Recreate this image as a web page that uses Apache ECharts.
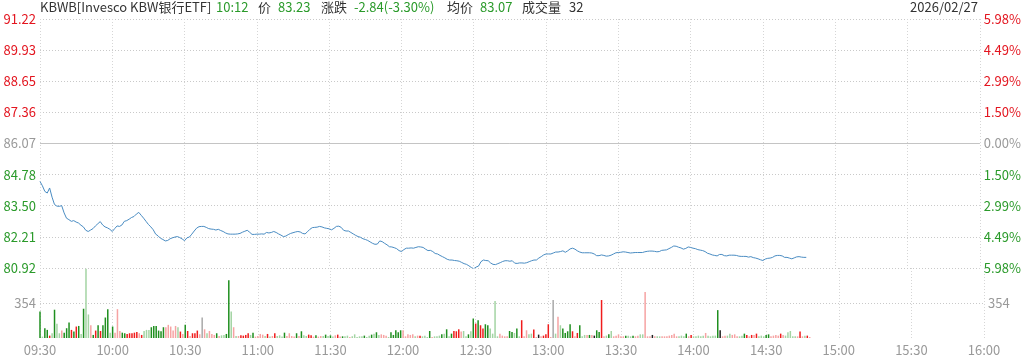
<!DOCTYPE html>
<html>
<head>
<meta charset="utf-8">
<script src="https://cdn.jsdelivr.net/npm/echarts@6/dist/echarts.min.js"></script>
<style>
html,body{margin:0;padding:0;background:#fff;}
#chart{width:1024px;height:362px;}
</style>
</head>
<body>
<div id="chart"></div>
<script>
// ---- data ----
const timeTicks = ['09:30','10:00','10:30','11:00','11:30','12:00','12:30','13:00','13:30','14:00','14:30','15:00','15:30','16:00'];
const priceTicks = [80.92, 82.21, 83.50, 84.78, 86.07, 87.36, 88.65, 89.93, 91.22];
const pctTicks = [-5.98, -4.49, -2.99, -1.50, 0.00, 1.50, 2.99, 4.49, 5.98];
const volTicks = [354];
const preClose = 86.07;

const priceVals = [
 84.50,84.32,84.09,84.02,84.23,83.85,83.55,83.48,83.47,83.50,
 83.20,82.98,82.92,82.85,82.88,82.82,82.78,82.69,82.62,82.48,
 82.43,82.49,82.55,82.66,82.75,82.84,82.70,82.62,82.58,82.52,
 82.43,82.55,82.66,82.64,82.70,82.85,82.88,82.94,83.01,83.05,
 83.15,83.22,83.10,82.98,82.85,82.72,82.62,82.50,82.32,82.25,
 82.15,82.10,82.04,82.06,82.13,82.17,82.20,82.22,82.18,82.12,
 82.05,82.17,82.20,82.32,82.45,82.57,82.63,82.64,82.64,82.60,
 82.55,82.53,82.52,82.49,82.52,82.47,82.43,82.37,82.33,82.32,
 82.32,82.32,82.33,82.35,82.40,82.44,82.48,82.40,82.31,82.31,
 82.32,82.32,82.33,82.32,82.39,82.37,82.39,82.43,82.39,82.33,
 82.28,82.22,82.24,82.30,82.35,82.38,82.41,82.43,82.41,82.35,
 82.33,82.42,82.52,82.59,82.60,82.61,82.64,82.62,82.58,82.56,
 82.54,82.50,82.56,82.64,82.65,82.60,82.48,82.45,82.45,82.39,
 82.33,82.27,82.22,82.19,82.13,82.10,82.06,82.00,81.94,81.90,
 81.91,82.04,82.01,81.94,81.88,81.80,81.79,81.76,81.72,81.64,
 81.60,81.68,81.74,81.74,81.75,81.74,81.77,81.80,81.79,81.77,
 81.70,81.64,81.65,81.60,81.52,81.50,81.44,81.39,81.34,81.28,
 81.25,81.25,81.23,81.22,81.20,81.15,81.10,81.07,81.01,80.94,
 80.89,80.96,81.00,81.18,81.25,81.23,81.22,81.13,81.07,81.06,
 81.10,81.14,81.19,81.22,81.22,81.20,81.22,81.12,81.11,81.13,
 81.13,81.12,81.14,81.18,81.22,81.25,81.25,81.33,81.39,81.46,
 81.50,81.50,81.50,81.54,81.58,81.58,81.60,81.63,81.57,81.63,
 81.71,81.74,81.70,81.63,81.58,81.55,81.55,81.55,81.55,81.54,
 81.50,81.43,81.43,81.46,81.44,81.41,81.42,81.45,81.50,81.55,
 81.56,81.57,81.59,81.58,81.56,81.54,81.55,81.56,81.56,81.56,
 81.56,81.59,81.61,81.62,81.62,81.61,81.59,81.60,81.65,81.66,
 81.67,81.72,81.77,81.83,81.82,81.78,81.75,81.70,81.73,81.79,
 81.77,81.74,81.72,81.68,81.66,81.64,81.60,81.53,81.50,81.46,
 81.44,81.42,81.48,81.48,81.43,81.42,81.45,81.45,81.45,81.44,
 81.41,81.40,81.40,81.40,81.37,81.39,81.35,81.33,81.30,81.26,
 81.23,81.29,81.32,81.33,81.36,81.42,81.44,81.44,81.42,81.36,
 81.36,81.33,81.30,81.34,81.38,81.39,81.37,81.36,81.36
];

const volumes = [
 269,14,99,82,24,48,286,143,48,75,
 54,99,156,82,65,116,122,41,296,700,
 238,129,31,75,129,71,129,207,292,54,
 116,54,292,71,54,48,41,48,48,54,
 61,48,31,71,82,82,109,122,122,75,
 68,109,109,133,116,75,122,109,65,41,
 133,71,20,48,48,75,37,207,88,48,
 71,41,31,48,20,27,31,41,585,269,
 109,20,20,27,24,31,48,31,54,14,
 20,41,34,20,41,14,20,48,20,27,
 14,54,20,48,20,14,48,20,68,27,
 20,34,27,14,27,14,20,20,34,20,
 27,14,27,34,14,
 17,17,24,10,17,
 37,10,17,17,24,10,24,34,44,58,
 31,37,31,24,10,58,31,78,58,78,
 78,17,37,31,37,17,24,24,17,24,
 10,71,10,17,17,24,37,44,88,17,
 44,71,68,88,65,71,17,37,68,197,
 146,180,129,95,139,129,95,44,374,17,
 44,24,17,17,71,61,51,95,17,180,
 17,78,37,44,85,10,34,17,24,37,
 139,10,384,44,214,129,95,51,68,139,
 68,17,51,129,17,31,31,31,31,24,
 78,61,384,17,24,37,71,17,24,37,
 17,17,24,24,17,24,17,24,37,37,
 466,17,17,31,17,17,17,17,17,17,
 24,31,44,17,17,24,17,44,17,31,
 17,17,24,17,24,51,24,17,24,24,
 282,78,17,24,24,44,31,37,17,17,
 24,44,31,17,31,31,44,17,24,17,
 31,37,17,24,31,24,44,31,24,58,
 71,17,17,17,65,17,24,24,10
];

// bar type per minute: G strong down, g weak down, R strong up, p weak up, k neutral-dark, x neutral-gray, . small
const volKinds = (
 'G.GGRgGggp'+'GGGRGRGgGg'+'gpGRGRGGGg'+'GpppGGRRRR'+'RpRgggGGGG'+
 'GGpppppgRp'+'GR.RRRpxpg'+'pppG...GGg'+'pg.RRRR.G.'+'.pp.R..R..'+
 '.G.p..G.G.'+'.RR.G...G.'+'G..R.'+
 'G....'+
 'g...G..GgG'+'gppp.GGGGG'+'p.ppp..R..'+'.G..g.GgG.'+'GRRRpg.GgG'+
 'RGRRGGggg.'+'pp..GGgG.R'+'.pggR.k.RR'+'R.xgpgGGGG'+'R.RG.g.G.k'+
 'GGR..Gg..p'+'..G..G..gg'+'p..k......'+'.pp....G.R'+'.....p....'+
 'Gk...gpp..'+'.GR.RpR...'+'GG..p.Rp.g'+'g...R..R.'
).split('');

// ---- styles ----
const kindColor = {G:'#1f8f1f', g:'#a3d4a3', R:'#f01c1c', p:'#f6a3a3', k:'#222222', x:'#a9a9a9'};
const GREEN = '#2a9a2a', RED = '#e3151f', GRAY = '#999999', DARK = '#333333';
const FONT = '"Noto Sans CJK SC", "Noto Sans", sans-serif';
const gridLine = {show:true, lineStyle:{color:'#c9c9c9', type:[1,2], width:1}};

const chart = echarts.init(document.getElementById('chart'), null, {renderer:'canvas'});

const volData = volumes.map((v, i) => {
  let k = volKinds[i] || '.';
  if (k === '.') {
    const prev = i > 0 ? priceVals[i-1] : preClose;
    k = priceVals[i] >= prev ? 'p' : 'g';
  }
  return {value:[i, v], itemStyle:{color: kindColor[k]}};
});

const headerParts = [
  {t:'KBWB[Invesco KBW银行ETF]', x:40, c:DARK},
  {t:'10:12', x:216, c:GREEN},
  {t:'价', x:258, c:DARK},
  {t:'83.23', x:278, c:GREEN},
  {t:'涨跌', x:321, c:DARK},
  {t:'-2.84(-3.30%)', x:354, c:GREEN},
  {t:'均价', x:447, c:DARK},
  {t:'83.07', x:480, c:GREEN},
  {t:'成交量', x:522, c:DARK},
  {t:'32', x:569, c:DARK}
];

const graphics = headerParts.map(p => ({
  type:'text', left:p.x, top:1,
  style:{text:p.t, fill:p.c, font:'13px ' + FONT}
}));
graphics.push({type:'text', right:46, top:1, style:{text:'2026/02/27', fill:DARK, font:'13px ' + FONT}});

const option = {
  animation:false,
  backgroundColor:'#fff',
  graphic: graphics,
  grid:[
    {left:40, right:40, top:19, height:249},
    {left:40, right:40, top:268, height:70}
  ],
  xAxis:[
    {gridIndex:0, type:'value', min:0, max:390, interval:30,
     axisLine:{show:false}, axisTick:{show:false}, axisLabel:{show:false},
     splitLine:{show:true, lineStyle:{color:'#d6d6d6', type:[1,2], width:1}}},
    {gridIndex:1, type:'value', min:0, max:390, interval:30,
     axisLine:{show:false}, axisTick:{show:false},
     axisLabel:{show:true, color:GRAY, fontSize:13, fontFamily:FONT, margin:6,
       formatter: v => timeTicks[Math.round(v/30)] || ''},
     splitLine:{show:true, lineStyle:{color:'#d6d6d6', type:[1,2], width:1}}}
  ],
  yAxis:[
    {gridIndex:0, type:'value', min:80.92, max:91.22, position:'left',
     axisLine:{show:false},
     axisTick:{show:false, customValues:priceTicks},
     axisLabel:{customValues:priceTicks, margin:4, fontSize:13, fontFamily:FONT,
       formatter: v => {
         const s = v.toFixed(2);
         if (Math.abs(v - preClose) < 0.005) return '{n|' + s + '}';
         return v > preClose ? '{r|' + s + '}' : '{g|' + s + '}';
       },
       rich:{n:{color:GRAY, fontSize:13, fontFamily:FONT}, r:{color:RED, fontSize:13, fontFamily:FONT}, g:{color:GREEN, fontSize:13, fontFamily:FONT}}},
     splitLine:gridLine},
    {gridIndex:0, type:'value', min:-5.98, max:5.98, position:'right',
     axisLine:{show:false},
     axisTick:{show:false, customValues:pctTicks},
     axisLabel:{customValues:pctTicks, margin:4, fontSize:13, fontFamily:FONT,
       formatter: v => {
         const s = Math.abs(v).toFixed(2) + '%';
         if (Math.abs(v) < 0.005) return '{n|' + s + '}';
         return v > 0 ? '{r|' + s + '}' : '{g|' + s + '}';
       },
       rich:{n:{color:GRAY, fontSize:13, fontFamily:FONT}, r:{color:RED, fontSize:13, fontFamily:FONT}, g:{color:GREEN, fontSize:13, fontFamily:FONT}}},
     splitLine:{show:false}},
    {gridIndex:1, type:'value', min:0, max:708, position:'left',
     axisLine:{show:false},
     axisTick:{show:false, customValues:volTicks},
     axisLabel:{customValues:volTicks, margin:4, color:GRAY, fontSize:13, fontFamily:FONT},
     splitLine:gridLine},
    {gridIndex:1, type:'value', min:0, max:708, position:'right',
     axisLine:{show:false},
     axisTick:{show:false, customValues:volTicks},
     axisLabel:{customValues:volTicks, margin:4, color:GRAY, fontSize:13, fontFamily:FONT},
     splitLine:{show:false}}
  ],
  series:[
    {type:'line', xAxisIndex:0, yAxisIndex:0,
     data: priceVals.map((p, i) => [i, p]),
     showSymbol:false, symbol:'none',
     lineStyle:{color:'#4a8cc2', width:1},
     markLine:{silent:true, symbol:'none', label:{show:false},
       lineStyle:{color:'#c4c4c4', type:'solid', width:1},
       data:[{yAxis:preClose}]}},
    {type:'bar', xAxisIndex:1, yAxisIndex:2,
     data: volData, barWidth:1.5}
  ]
};
chart.setOption(option);
</script>
</body>
</html>
